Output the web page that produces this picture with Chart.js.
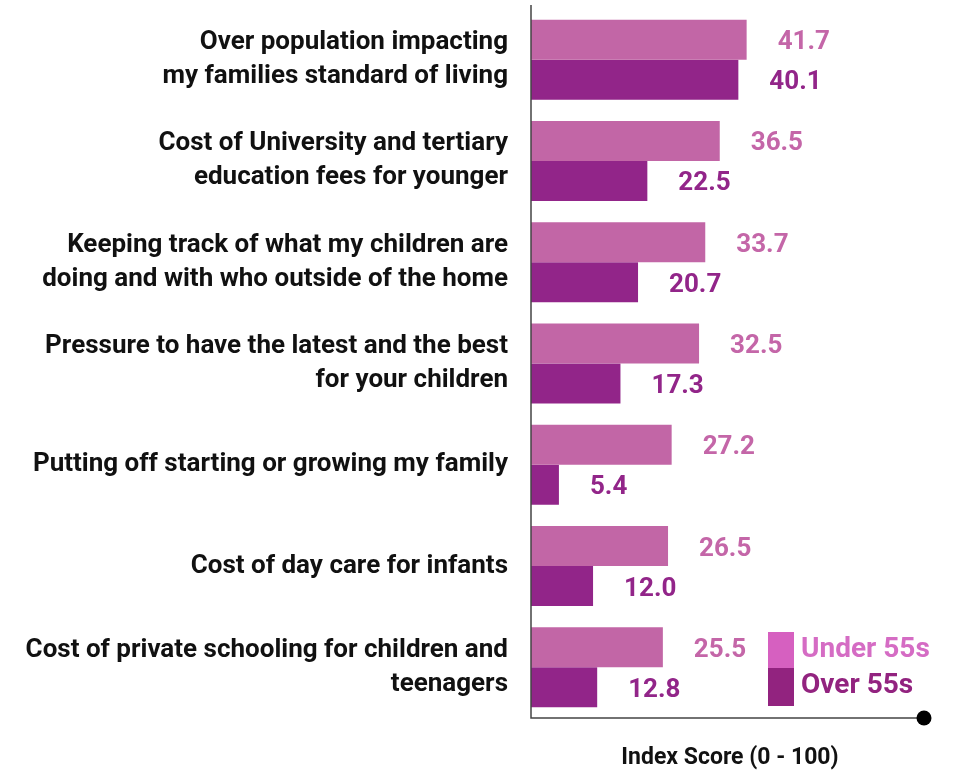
<!DOCTYPE html>
<html><head><meta charset="utf-8">
<script src="https://cdn.jsdelivr.net/npm/chart.js@4/dist/chart.umd.min.js"></script>
<style>html,body{margin:0;padding:0;background:#fff}#wrap{width:955px;height:771px}</style>
</head><body><div id="wrap"><canvas id="c" width="955" height="771"></canvas></div>
<script>
const categories = [
  ["Over population impacting","my families standard of living"],
  ["Cost of University and tertiary","education fees for younger"],
  ["Keeping track of what my children are","doing and with who outside of the home"],
  ["Pressure to have the latest and the best","for your children"],
  ["Putting off starting or growing my family"],
  ["Cost of day care for infants"],
  ["Cost of private schooling for children and","teenagers"]
];
const under55 = [41.7, 36.5, 33.7, 32.5, 27.2, 26.5, 25.5];
const over55 = [40.1, 22.5, 20.7, 17.3, 5.4, 12.0, 12.8];
const seriesNames = ["Under 55s", "Over 55s"];
const axisTitle = "Index Score (0 - 100)";

const FONT = "Roboto";
const labelPlugin = {
  id: 'custom',
  afterDatasetsDraw(chart) {
    const ctx = chart.ctx;
    const colors = ['#c466a8', '#922589'];
    ctx.save();
    ctx.font = `bold 26px ${FONT}`;
    ctx.textBaseline = 'middle';
    ctx.textAlign = 'left';
    chart.data.datasets.forEach((ds, di) => {
      const meta = chart.getDatasetMeta(di);
      meta.data.forEach((bar, i) => {
        ctx.fillStyle = colors[di];
        ctx.fillText(ds.data[i].toFixed(1), bar.x + 31, bar.y + 3);
      });
    });
    ctx.restore();
  },
  afterDraw(chart) {
    const ctx = chart.ctx;
    const a = chart.chartArea;
    ctx.save();
    ctx.strokeStyle = '#444';
    ctx.lineWidth = 1.5;
    ctx.beginPath();
    ctx.moveTo(a.left, a.top - 4);
    ctx.lineTo(a.left, a.bottom);
    ctx.lineTo(a.right, a.bottom);
    ctx.stroke();
    ctx.fillStyle = '#000';
    ctx.beginPath();
    ctx.arc(a.right, a.bottom, 7.5, 0, Math.PI * 2);
    ctx.fill();
    ctx.font = `bold 23px ${FONT}`;
    ctx.textAlign = 'center';
    ctx.textBaseline = 'middle';
    ctx.fillStyle = '#111';
    ctx.fillText(axisTitle, 730, 758);
    const lx = 768, boxW = 26;
    const legColors = ['#d660c0', '#92237f'];
    const legText = ['#d56cc4', '#92237f'];
    ctx.fillStyle = legColors[0];
    ctx.fillRect(lx, 632, boxW, 36);
    ctx.fillStyle = legColors[1];
    ctx.fillRect(lx, 668, boxW, 38);
    ctx.font = `bold 28px ${FONT}`;
    ctx.textAlign = 'left';
    ctx.fillStyle = legText[0];
    ctx.fillText(seriesNames[0], 801, 650);
    ctx.fillStyle = legText[1];
    ctx.fillText(seriesNames[1], 801, 686);
    ctx.restore();
  }
};

new Chart(document.getElementById('c'), {
  type: 'bar',
  data: {
    labels: categories,
    datasets: [
      { label: seriesNames[0], data: under55, backgroundColor: '#c266a6', borderWidth: 0 },
      { label: seriesNames[1], data: over55, backgroundColor: '#922589', borderWidth: 0 }
    ]
  },
  options: {
    indexAxis: 'y',
    responsive: false,
    animation: false,
    layout: { padding: { top: 9, right: 31, left: 0, bottom: 0 } },
    categoryPercentage: 0.79,
    barPercentage: 1.0,
    plugins: { legend: { display: false }, tooltip: { enabled: false } },
    scales: {
      x: {
        min: 0, max: 76,
        grid: { display: false },
        border: { display: false },
        ticks: { display: false },
        afterFit(s) { s.height = 53; s.paddingLeft = 0; s.paddingRight = 0; }
      },
      y: {
        grid: { display: false, drawTicks: false },
        border: { display: false },
        ticks: {
          color: '#111',
          font: { family: FONT, weight: 'bold', size: 26, lineHeight: 1.31 },
          padding: 23,
          crossAlign: 'near'
        },
        afterFit(s) { s.width = 531; s.paddingTop = 0; s.paddingBottom = 0; }
      }
    }
  },
  plugins: [labelPlugin]
});
</script>
</body></html>
